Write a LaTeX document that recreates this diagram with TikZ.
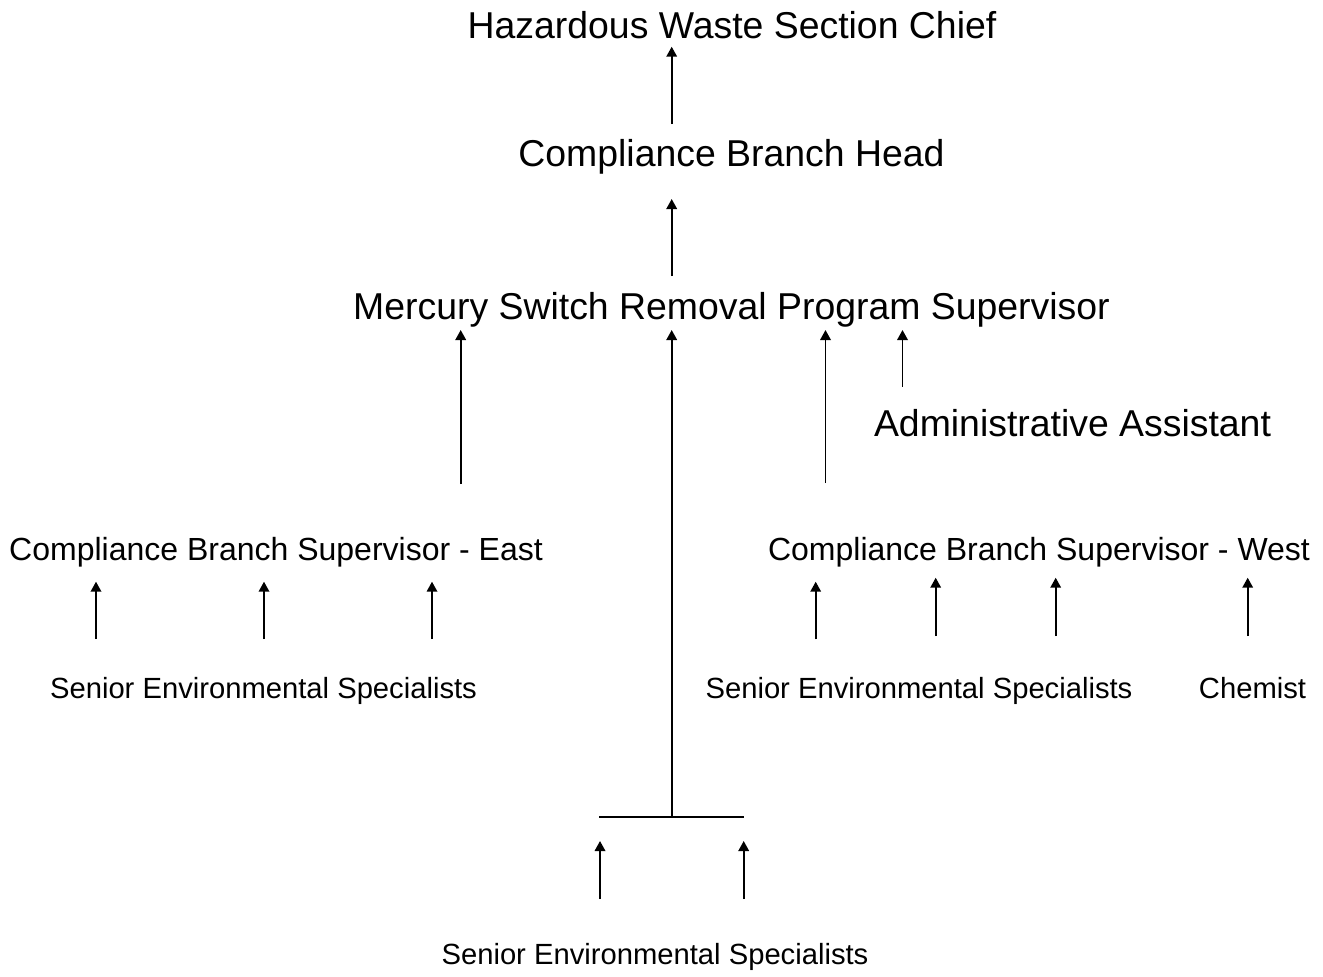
\documentclass[tikz,border=0pt]{standalone}
\usepackage{fontspec}
\setmainfont{Liberation Sans}
\usetikzlibrary{arrows.meta}
\tikzset{
  big/.style={inner sep=0pt, anchor=base, font=\fontsize{37.4}{44}\selectfont},
  mid/.style={inner sep=0pt, anchor=base, font=\fontsize{32}{38}\selectfont},
  small/.style={inner sep=0pt, anchor=base, font=\fontsize{29.2}{34}\selectfont},
  uparrow/.style={line width=1.8pt, -{Triangle[width=10.5pt,length=10pt]}},
  plainline/.style={line width=1.8pt}
}
\begin{document}
\begin{tikzpicture}[x=1pt,y=-1pt]
\useasboundingbox (0,0) rectangle (1323,977);
% texts
\node[big] (chief) at (732,38.3) {Hazardous Waste Section Chief};
\node[big] (head) at (731.5,166.7) {Compliance Branch Head};
\node[big] (merc) at (731.5,319.3) {Mercury Switch Removal Program Supervisor};
\node[big] (admin) at (1072.5,436.7) {Administrative Assistant};
\node[mid] (east) at (276,560) {Compliance Branch Supervisor - East};
\node[mid] (west) at (1039,560) {Compliance Branch Supervisor - West};
\node[small] (sesE) at (263.5,698.3) {Senior Environmental Specialists};
\node[small] (sesW) at (919,698.3) {Senior Environmental Specialists};
\node[small] (chem) at (1252.5,698.3) {Chemist};
\node[small] (sesB) at (655,964.3) {Senior Environmental Specialists};
% arrow end points
\coordinate (a1s) at (671.7,124); \coordinate (a1e) at (671.7,46.7);
\coordinate (a2s) at (671.7,276); \coordinate (a2e) at (671.7,199);
\coordinate (m1s) at (460.7,484); \coordinate (m1e) at (460.7,330);
\coordinate (m2s) at (671.7,817.3); \coordinate (m2e) at (671.7,330);
\coordinate (m3s) at (825.5,483); \coordinate (m3e) at (825.5,330);
\coordinate (m4s) at (902.5,386.7); \coordinate (m4e) at (902.5,330);
\coordinate (e1s) at (96,639); \coordinate (e1e) at (96,581.7);
\coordinate (e2s) at (264,639); \coordinate (e2e) at (264,581.7);
\coordinate (e3s) at (432,639); \coordinate (e3e) at (432,581.7);
\coordinate (w1s) at (815.7,639.3); \coordinate (w1e) at (815.7,581.7);
\coordinate (w2s) at (935.7,636); \coordinate (w2e) at (935.7,577.7);
\coordinate (w3s) at (1055.7,636); \coordinate (w3e) at (1055.7,577.7);
\coordinate (w4s) at (1247.7,636); \coordinate (w4e) at (1247.7,577.7);
\coordinate (hl) at (599.3,817.3); \coordinate (hr) at (744.3,817.3);
\coordinate (b1s) at (600,899); \coordinate (b1e) at (600,841);
\coordinate (b2s) at (743.7,899); \coordinate (b2e) at (743.7,841);
% connectors
\draw[uparrow] (a1s) -- (a1e);
\draw[uparrow] (a2s) -- (a2e);
\draw[uparrow] (m1s) -- (m1e);
\draw[uparrow] (m2s) -- (m2e);
\draw[uparrow] (m3s) -- (m3e);
\draw[uparrow] (m4s) -- (m4e);
\draw[uparrow] (e1s) -- (e1e);
\draw[uparrow] (e2s) -- (e2e);
\draw[uparrow] (e3s) -- (e3e);
\draw[uparrow] (w1s) -- (w1e);
\draw[uparrow] (w2s) -- (w2e);
\draw[uparrow] (w3s) -- (w3e);
\draw[uparrow] (w4s) -- (w4e);
\draw[plainline] (hl) -- (hr);
\draw[uparrow] (b1s) -- (b1e);
\draw[uparrow] (b2s) -- (b2e);
\end{tikzpicture}
\end{document}
